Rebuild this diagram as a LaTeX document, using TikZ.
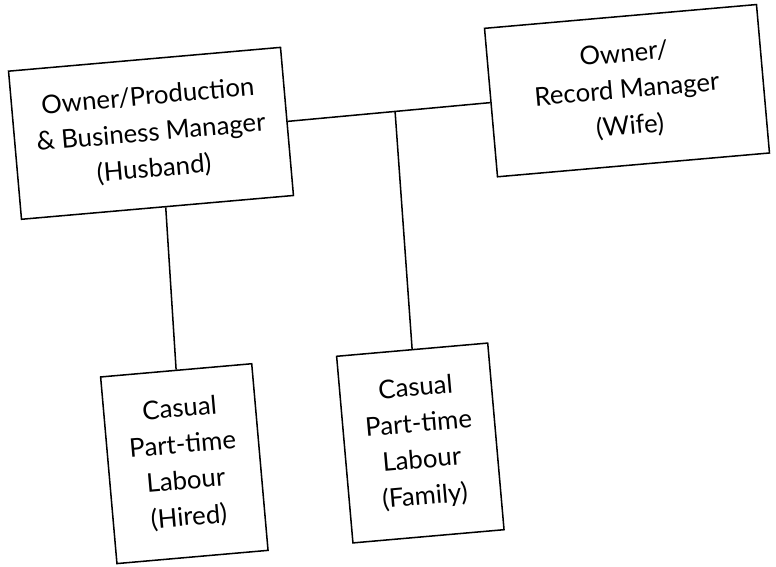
\documentclass[tikz,border=0pt]{standalone}
\usepackage{fontspec}
\setmainfont{Lato}
\usetikzlibrary{calc}

\begin{document}
\begin{tikzpicture}[box/.style={draw, line width=1.3pt, rotate=5, align=center, inner sep=0pt, font=\fontsize{22}{31}\selectfont},
    link/.style={line width=1.3pt}]
    \useasboundingbox (0,0) rectangle (23.28,-17.01);
    \node[box, minimum width=8.19cm, minimum height=4.46cm] (husband) at (4.53,-4.00) {Owner/Production\\ \& Business Manager\\ (Husband)};
    \node[box, minimum width=8.19cm, minimum height=4.47cm] (wife) at (18.81,-2.72) {Owner/\\ Record Manager\\ (Wife)};
    \node[box, minimum width=4.55cm, minimum height=5.62cm] (hired) at (5.53,-13.91) {Casual\\ Part-time\\ Labour\\ (Hired)};
    \node[box, minimum width=4.55cm, minimum height=5.62cm] (family) at (12.61,-13.29) {Casual\\ Part-time\\ Labour\\ (Family)};
    % connectors
    \coordinate (split) at ($(husband.east)!0.53!(wife.west)$);
    \coordinate (hbot) at ($(husband.south west)!0.53!(husband.south east)$);
    \draw[link] (husband.east) -- (wife.west);
    \draw[link] (split) -- (family.north);
    \draw[link] (hbot) -- (hired.north);
\end{tikzpicture}
\end{document}
